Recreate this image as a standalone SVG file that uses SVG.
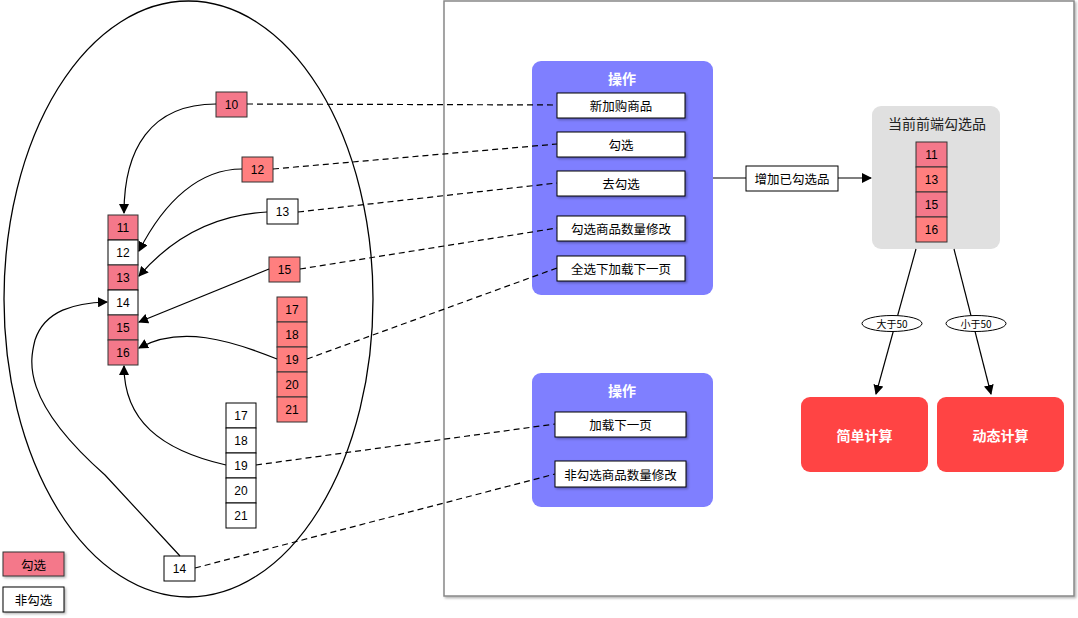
<svg xmlns="http://www.w3.org/2000/svg" width="1078" height="618" viewBox="0 0 1078 618">
<style>
.num{font-family:"Liberation Sans",Arial,sans-serif;font-size:12px;fill:#000;text-anchor:middle;dominant-baseline:central}
.cn{font-family:"Noto Sans CJK SC","Liberation Sans",sans-serif;font-size:12.5px;fill:#000;text-anchor:middle;dominant-baseline:central}
.ttl{font-family:"Noto Sans CJK SC","Liberation Sans",sans-serif;font-size:14px;fill:#fff;text-anchor:middle;dominant-baseline:central;font-weight:bold}
.pk{fill:#F4788A;stroke:#333;stroke-width:1}
.sm{fill:#FF7F7F;stroke:#333;stroke-width:1}
.wh{fill:#fff;stroke:#000;stroke-width:1}
.solid{fill:none;stroke:#000;stroke-width:1.2}
.dash{fill:none;stroke:#000;stroke-width:1.2;stroke-dasharray:6 4}
</style>
<defs>
<marker id="ah" viewBox="0 0 10 10" refX="9" refY="5" markerWidth="10" markerHeight="10" markerUnits="userSpaceOnUse" orient="auto">
<path d="M0,0 L10,5 L0,10 Z" fill="#000"/>
</marker>
<filter id="sh" x="-10%" y="-10%" width="130%" height="130%">
<feDropShadow dx="1.5" dy="1.5" stdDeviation="1" flood-color="#000" flood-opacity="0.3"/>
</filter>
</defs>

<g id="frame">
<rect x="444" y="1" width="630" height="595" fill="#fff" stroke="#888" stroke-width="1.5" filter="url(#sh)"/>
</g>
<g id="ellipse">
<ellipse cx="188.5" cy="299" rx="184.5" ry="298" fill="none" stroke="#000" stroke-width="1.3"/>
</g>

<g id="op1">
<rect x="532" y="61" width="181" height="234" rx="9" fill="#7F7FFF"/>
<text class="ttl" x="622" y="78">操作</text>
<rect class="wh" x="557" y="93" width="128" height="25" filter="url(#sh)"/><text class="cn" x="621" y="105.5">新加购商品</text>
<rect class="wh" x="557" y="132" width="128" height="25" filter="url(#sh)"/><text class="cn" x="621" y="144.5">勾选</text>
<rect class="wh" x="557" y="171" width="128" height="25" filter="url(#sh)"/><text class="cn" x="621" y="183.5">去勾选</text>
<rect class="wh" x="557" y="216" width="128" height="25" filter="url(#sh)"/><text class="cn" x="621" y="228.5">勾选商品数量修改</text>
<rect class="wh" x="557" y="256" width="128" height="25" filter="url(#sh)"/><text class="cn" x="621" y="268.5">全选下加载下一页</text>
</g>

<g id="op2">
<rect x="532" y="373" width="181" height="134" rx="9" fill="#7F7FFF"/>
<text class="ttl" x="622" y="390">操作</text>
<rect class="wh" x="555" y="412" width="131" height="25" filter="url(#sh)"/><text class="cn" x="620.5" y="424.5">加载下一页</text>
<rect class="wh" x="555" y="461" width="131" height="26" filter="url(#sh)"/><text class="cn" x="620.5" y="474">非勾选商品数量修改</text>
</g>

<g id="col-main">
<rect class="pk" x="108" y="215" width="30" height="25"/><text class="num" x="123" y="228">11</text>
<rect class="wh" x="108" y="240" width="30" height="25"/><text class="num" x="123" y="253">12</text>
<rect class="pk" x="108" y="265" width="30" height="25"/><text class="num" x="123" y="278">13</text>
<rect class="wh" x="108" y="290" width="30" height="25"/><text class="num" x="123" y="303">14</text>
<rect class="pk" x="108" y="315" width="30" height="25"/><text class="num" x="123" y="328">15</text>
<rect class="pk" x="108" y="340" width="30" height="25"/><text class="num" x="123" y="353">16</text>
</g>

<g id="n10"><rect class="pk" x="216" y="92" width="31" height="25"/><text class="num" x="231.5" y="105">10</text></g>
<g id="n12"><rect class="sm" x="242" y="157" width="31" height="25"/><text class="num" x="257.5" y="170">12</text></g>
<g id="n13"><rect class="wh" x="267" y="199" width="31" height="25"/><text class="num" x="282.5" y="212">13</text></g>
<g id="n15"><rect class="sm" x="269" y="257" width="31" height="25"/><text class="num" x="284.5" y="270">15</text></g>

<g id="col-pink">
<rect class="sm" x="277" y="297" width="30" height="25"/><text class="num" x="292" y="310">17</text>
<rect class="sm" x="277" y="322" width="30" height="25"/><text class="num" x="292" y="335">18</text>
<rect class="sm" x="277" y="347" width="30" height="25"/><text class="num" x="292" y="360">19</text>
<rect class="sm" x="277" y="372" width="30" height="25"/><text class="num" x="292" y="385">20</text>
<rect class="sm" x="277" y="397" width="30" height="25"/><text class="num" x="292" y="410">21</text>
</g>

<g id="col-white">
<rect class="wh" x="226" y="403" width="30" height="25"/><text class="num" x="241" y="416">17</text>
<rect class="wh" x="226" y="428" width="30" height="25"/><text class="num" x="241" y="441">18</text>
<rect class="wh" x="226" y="453" width="30" height="25"/><text class="num" x="241" y="466">19</text>
<rect class="wh" x="226" y="478" width="30" height="25"/><text class="num" x="241" y="491">20</text>
<rect class="wh" x="226" y="503" width="30" height="25"/><text class="num" x="241" y="516">21</text>
</g>

<g id="n14"><rect class="wh" x="164" y="556" width="31" height="25"/><text class="num" x="179.5" y="569">14</text></g>

<g id="addlabel">
<rect class="wh" x="746" y="166" width="92" height="25"/><text class="cn" x="792" y="178.5">增加已勾选品</text>
</g>

<g id="selected">
<rect x="872" y="106" width="128" height="143" rx="9" fill="#E0E0E0"/>
<text class="cn" x="937" y="123" style="font-size:14px;fill:#222">当前前端勾选品</text>
<rect class="pk" x="916" y="142" width="31" height="25"/><text class="num" x="931.5" y="155">11</text>
<rect class="sm" x="916" y="167" width="31" height="25"/><text class="num" x="931.5" y="180">13</text>
<rect class="pk" x="916" y="192" width="31" height="25"/><text class="num" x="931.5" y="205">15</text>
<rect class="sm" x="916" y="217" width="31" height="25"/><text class="num" x="931.5" y="230">16</text>
</g>

<g id="simple">
<rect x="801" y="397" width="127" height="75" rx="9" fill="#FF4444"/>
<text class="ttl" x="864.5" y="434.5">简单计算</text>
</g>
<g id="dynamic">
<rect x="937" y="397" width="127" height="75" rx="9" fill="#FF4444"/>
<text class="ttl" x="1000.5" y="434.5">动态计算</text>
</g>

<g id="legend-checked">
<rect class="pk" x="3" y="552" width="61" height="24" filter="url(#sh)"/><text class="cn" x="33.5" y="564">勾选</text>
</g>
<g id="legend-unchecked">
<rect class="wh" x="3" y="587" width="61" height="25" filter="url(#sh)"/><text class="cn" x="33.5" y="599.5">非勾选</text>
</g>

<g id="connectors">
<path class="solid" d="M216,104 C150,104 124,150 124,213" marker-end="url(#ah)"/>
<path class="solid" d="M242,169 C200,169 165,200 139,251" marker-end="url(#ah)"/>
<path class="solid" d="M267,212 C210,215 170,240 139,276" marker-end="url(#ah)"/>
<path class="solid" d="M269,269 L139,322" marker-end="url(#ah)"/>
<path class="solid" d="M277,359 C230,340 180,325 139,348" marker-end="url(#ah)"/>
<path class="solid" d="M226,465 C160,450 124,420 124,366" marker-end="url(#ah)"/>
<path class="solid" d="M180,556 L105,475 C20,400 30,360 35,340 C45,310 75,303 107,302" marker-end="url(#ah)"/>
<path class="dash" d="M247,104 L557,105"/>
<path class="dash" d="M273,169 L557,144"/>
<path class="dash" d="M298,212 L557,183"/>
<path class="dash" d="M300,269 L557,228"/>
<path class="dash" d="M307,359 L557,268"/>
<path class="dash" d="M256,465 L555,424"/>
<path class="dash" d="M195,568 L555,474"/>
<path class="solid" d="M713,178 L746,178"/>
<path class="solid" d="M838,178 L871,178" marker-end="url(#ah)"/>
<path class="solid" d="M916,249 L876,394" marker-end="url(#ah)"/>
<path class="solid" d="M954,249 L991,394" marker-end="url(#ah)"/>
</g>

<g id="lbl-gt">
<ellipse cx="892" cy="323.5" rx="30" ry="8" fill="#fff" stroke="#000" stroke-width="1"/>
<text class="cn" x="892" y="323.5" style="font-size:10px">大于50</text>
</g>
<g id="lbl-lt">
<ellipse cx="976" cy="323.5" rx="30" ry="8" fill="#fff" stroke="#000" stroke-width="1"/>
<text class="cn" x="976" y="323.5" style="font-size:10px">小于50</text>
</g>
</svg>
